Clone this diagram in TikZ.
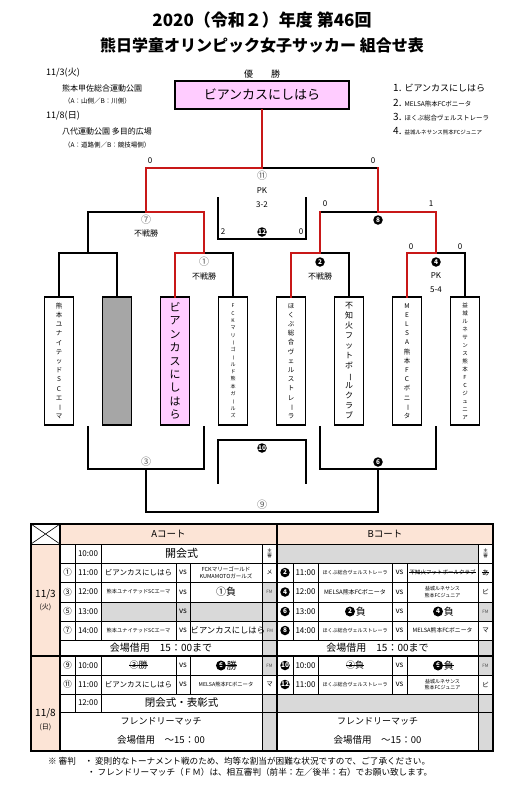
\documentclass[tikz,border=0pt]{standalone}
\usepackage{fontspec}
\setmainfont{Noto Sans CJK JP}
\usetikzlibrary{positioning}

\definecolor{winred}{RGB}{200,24,24}
\definecolor{peach}{RGB}{252,228,214}
\definecolor{cellgray}{RGB}{217,217,217}
\definecolor{byegray}{RGB}{166,166,166}
\definecolor{champpink}{RGB}{255,204,255}

\newcommand\fsz[2]{\fontsize{#1}{#2}\selectfont}
\newcommand\tbar{\rotatebox[origin=c]{-90}{ー}}

\tikzset{
  brk/.style={line width=1.5pt, line cap=rect},
  win/.style={line width=2.6pt, draw=winred, line cap=rect},
  team/.style={draw, line width=1.6pt, minimum width=29pt, minimum height=128pt,
    inner sep=0pt, align=center},
  wnum/.style={inner sep=0pt, text=black!65, font=\fsz{10}{10}},
  bnum/.style={circle, fill=black, text=white, inner sep=0pt, minimum size=9.5pt,
    font=\fsz{6.5}{6.5}\bfseries},
  lbl/.style={inner sep=0pt, font=\fsz{8}{9}},
  thinl/.style={line width=0.6pt},
  thickl/.style={line width=1.6pt},
  txt/.style={inner sep=0pt, font=\fsz{#1}{#1}},
  sm/.style={inner sep=0pt, align=center, font=\fsz{#1}{6.6}},
  struck/.style={append after command={(\tikzlastnode.west) edge[line width=0.6pt] (\tikzlastnode.east)}},
}

\begin{document}
\begin{tikzpicture}[x=1pt,y=-1pt]
\useasboundingbox (0,0) rectangle (525,809);

% title
\node[font=\fsz{17}{17}\bfseries] (title1) at (262,20) {2020（令和２）年度 第46回};
\node[font=\fsz{16}{16}\bfseries] (title2) at (262,45) {熊日学童オリンピック女子サッカー 組合せ表};

% venues
\node[anchor=west, txt=9] (day1v) at (46,73) {11/3(火)};
\node[anchor=west, txt=8] (place1) at (62,88) {熊本甲佐総合運動公園};
\node[anchor=west, txt=6.5] (side1) at (64,101) {（A：山側／B：川側）};
\node[anchor=west, txt=9] (day2v) at (46,116) {11/8(日)};
\node[anchor=west, txt=8] (place2) at (62,131) {八代運動公園 多目的広場};
\node[anchor=west, txt=6.5] (side2) at (64,145) {（A：道路側／B：競技場側）};

% ranking
\node[anchor=west, inner sep=0pt] (rank1) at (393,88) {\fsz{10}{10}1. \fsz{9}{9}ビアンカスにしはら};
\node[anchor=west, inner sep=0pt] (rank2) at (393,103) {\fsz{10}{10}2. \fsz{6.5}{6.5}MELSA熊本FCボニータ};
\node[anchor=west, inner sep=0pt] (rank3) at (393,117) {\fsz{10}{10}3. \fsz{6.5}{6.5}ほくぶ総合ヴェルストレーラ};
\node[anchor=west, inner sep=0pt] (rank4) at (393,131) {\fsz{10}{10}4. \fsz{5.5}{5.5}益城ルネサンス熊本FCジュニア};

% champion
\node[txt=9] (yusho) at (262,74) {優　　勝};
\node[draw, line width=1.6pt, fill=champpink, minimum width=174pt, minimum height=28pt,
  inner sep=0pt, font=\fsz{13}{13}] (champ) at (262,95) {ビアンカスにしはら};

% teams
\node[team, font=\fsz{6.5}{9.2}] (t1) at (59,361) {熊\\本\\ユ\\ナ\\イ\\テ\\ッ\\ド\\S\\C\\エ\\\tbar\\マ};
\node[team, fill=byegray] (t2) at (117,361) {};
\node[team, fill=champpink, font=\fsz{11}{13.4}] (t3) at (175,361) {ビ\\ア\\ン\\カ\\ス\\に\\し\\は\\ら};
\node[team, font=\fsz{5}{7.3}] (t4) at (233,361) {F\\C\\K\\マ\\リ\\\tbar\\ゴ\\\tbar\\ル\\ド\\熊\\本\\ガ\\\tbar\\ル\\ズ};
\node[team, font=\fsz{6.5}{9.2}] (t5) at (291,361) {ほ\\く\\ぶ\\総\\合\\ヴ\\ェ\\ル\\ス\\ト\\レ\\\tbar\\ラ};
\node[team, font=\fsz{8}{10}] (t6) at (349,361) {不\\知\\火\\フ\\ッ\\ト\\ボ\\\tbar\\ル\\ク\\ラ\\ブ};
\node[team, font=\fsz{6.5}{9.2}] (t7) at (407,361) {M\\E\\L\\S\\A\\熊\\本\\F\\C\\ボ\\ニ\\\tbar\\タ};
\node[team, font=\fsz{5.5}{8}] (t8) at (465,361) {益\\城\\ル\\ネ\\サ\\ン\\ス\\熊\\本\\F\\C\\ジ\\ュ\\ニ\\ア};

% upper bracket
\coordinate (p12) at (88,253);
\coordinate (m1) at (204,253);
\coordinate (m2) at (320,253);
\coordinate (m4) at (436,253);
\coordinate (m7) at (146,212);
\coordinate (m8) at (378,212);
\coordinate (m11) at (262,168);
\draw[brk] (t1.north) |- (p12) -| (t2.north);
\draw[brk] (t3.north) |- (m1) -| (t4.north);
\draw[brk] (t5.north) |- (m2) -| (t6.north);
\draw[brk] (t7.north) |- (m4) -| (t8.north);
\draw[brk] (p12) |- (m7) -| (m1);
\draw[brk] (m2) |- (m8) -| (m4);
\draw[brk] (m7) |- (m11) -| (m8);

% winners
\draw[win] (champ.south) -- (m11) -| (m7) -| (m1) -| (t3.north);
\draw[win] (m11 -| m8) -- (m8) -| (m4) -| (t7.north);
\draw[win] (t5.north) |- (m2) -- (m2 |- m8);

% third place
\coordinate (l12a) at (218,198);
\coordinate (l12b) at (306,198);
\coordinate (m12) at (262,239);
\draw[brk] (l12a) |- (m12) -| (l12b);

% lower bracket
\coordinate (g12) at (88,427);
\coordinate (g34) at (204,427);
\coordinate (g56) at (320,427);
\coordinate (g78) at (436,427);
\coordinate (m3) at (146,469);
\coordinate (m6) at (378,469);
\coordinate (m9) at (262,512);
\draw[brk] (g12) |- (m3) -| (g34);
\draw[brk] (g56) |- (m6) -| (g78);
\draw[brk] (m3) |- (m9) -| (m6);
\coordinate (m10) at (262,440);
\coordinate (l10a) at (218,483);
\coordinate (l10b) at (306,483);
\draw[brk] (l10a) |- (m10) -| (l10b);

% match labels
\node[lbl] (s11l) at (150,161) {0};
\node[lbl] (s11r) at (373,161) {0};
\node[wnum] (n11) at (262,176) {⑪};
\node[lbl] (pk11) at (262,191) {PK};
\node[lbl] (r11) at (262,205) {3-2};
\node[wnum] (n7) at (146,220) {⑦};
\node[lbl] (f7) at (146,233) {不戦勝};
\node[lbl] (s8l) at (325,204) {0};
\node[lbl] (s8r) at (431,204) {1};
\node[bnum] (n8) at (378,220) {8};
\node[lbl] (s12l) at (223,232) {2};
\node[bnum] (n12) at (262,232) {12};
\node[lbl] (s12r) at (301,232) {0};
\node[wnum] (n1) at (204,262) {①};
\node[lbl] (f1) at (204,276) {不戦勝};
\node[bnum] (n2) at (320,262) {2};
\node[lbl] (f2) at (320,276) {不戦勝};
\node[lbl] (s4l) at (411,247) {0};
\node[lbl] (s4r) at (460,247) {0};
\node[bnum] (n4) at (436,262) {4};
\node[lbl] (pk4) at (436,276) {PK};
\node[lbl] (r4) at (436,290) {5-4};
\node[bnum] (n10) at (262,448) {10};
\node[wnum] (n3) at (146,462) {③};
\node[bnum] (n6) at (378,462) {6};
\node[wnum] (n9) at (262,505) {⑨};

% schedule table: fills
\fill[peach] (60,524) rectangle (493,544);
\fill[peach] (31,544) rectangle (60,751);
\fill[cellgray] (277,544) rectangle (478,563);
\fill[cellgray] (262,582) rectangle (277,602);
\fill[cellgray] (101,602) rectangle (277,621);
\fill[cellgray] (478,602) rectangle (493,621);
\fill[cellgray] (262,621) rectangle (277,656);
\fill[cellgray] (478,640) rectangle (493,656);
\fill[cellgray] (262,656) rectangle (277,675);
\fill[cellgray] (478,656) rectangle (493,675);
\fill[cellgray] (262,694) rectangle (277,751);
\fill[cellgray] (277,694) rectangle (493,712);
\fill[cellgray] (478,712) rectangle (493,751);

% schedule table: rules
\draw[line width=1pt] (31,544) -- (493,544);
\foreach \y in {563,582,602,621,640,675,694,712}
  \draw[thinl] (60,\y) -- (493,\y);
\foreach \x in {75,101}
  \draw[thinl] (\x,544) -- (\x,640) (\x,656) -- (\x,712);
\foreach \x in {176,190,293,318,392,407}
  \draw[thinl] (\x,563) -- (\x,640) (\x,656) -- (\x,694);
\draw[thinl] (262,544) -- (262,751);
\draw[thinl] (478,544) -- (478,751);
\draw[thinl] (31,524) -- (60,544) (31,544) -- (60,524);
\draw[thickl] (60,524) -- (60,751);
\draw[thickl] (277,524) -- (277,751);
\draw[thickl] (31,656) -- (493,656);
\draw[thickl] (31,524) rectangle (493,751);

% schedule table: header and days
\node[txt=9.5] (hA) at (168.5,534) {Aコート};
\node[txt=9.5] (hB) at (385,534) {Bコート};
\node[txt=10] (day1) at (45.5,594) {11/3};
\node[txt=7] (wd1) at (45.5,607) {(火)};
\node[txt=10] (day2) at (45.5,713) {11/8};
\node[txt=7] (wd2) at (45.5,727) {(日)};

% 10:00
\node[txt=8] (a1t) at (88,553.5) {10:00};
\node[txt=11] (a1e) at (181.5,553.5) {開会式};
\node[inner sep=0pt, align=center, font=\fsz{4.5}{5.5}] (a1r) at (269.5,553.5) {主\\審};
\node[inner sep=0pt, align=center, font=\fsz{4.5}{5.5}] (b1r) at (485.5,553.5) {主\\審};

% 11:00
\node[txt=8.5] (a2n) at (67.5,572.5) {①};
\node[txt=8] (a2t) at (88,572.5) {11:00};
\node[txt=7.5] (a2h) at (138.5,572.5) {ビアンカスにしはら};
\node[txt=8] (a2v) at (183,572.5) {vs};
\node[sm=5.5] (a2o) at (226,572.5) {FCKマリーゴールド\\KUMAMOTOガールズ};
\node[txt=6] (a2r) at (269.5,572.5) {メ};
\node[bnum] (b2n) at (285,572.5) {2};
\node[txt=8] (b2t) at (305.5,572.5) {11:00};
\node[txt=5] (b2h) at (355,572.5) {ほくぶ総合ヴェルストレーラ};
\node[txt=8] (b2v) at (399.5,572.5) {vs};
\node[txt=5.5, struck] (b2o) at (442.5,572.5) {不知火フットボールクラブ};
\node[txt=7, struck] (b2r) at (485.5,572.5) {あ};

% 12:00
\node[txt=8.5] (a3n) at (67.5,592) {③};
\node[txt=8] (a3t) at (88,592) {12:00};
\node[txt=5.2] (a3h) at (138.5,592) {熊本ユナイテッドSCエーマ};
\node[txt=8] (a3v) at (183,592) {vs};
\node[txt=10] (a3o) at (226,592) {①負};
\node[txt=4.5, text=black!70] (a3r) at (269.5,592) {FM};
\node[bnum] (b3n) at (285,592) {4};
\node[txt=8] (b3t) at (305.5,592) {12:00};
\node[txt=6] (b3h) at (355,592) {MELSA熊本FCボニータ};
\node[txt=8] (b3v) at (399.5,592) {vs};
\node[sm=5] (b3o) at (442.5,592) {益城ルネサンス\\熊本FCジュニア};
\node[txt=6.5] (b3r) at (485.5,592) {ビ};

% 13:00
\node[txt=8.5] (a4n) at (67.5,611.5) {⑤};
\node[txt=8] (a4t) at (88,611.5) {13:00};
\node[txt=8] (a4v) at (183,611.5) {vs};
\node[bnum] (b4n) at (285,611.5) {6};
\node[txt=8] (b4t) at (305.5,611.5) {13:00};
\node[bnum, minimum size=10pt] (b4hc) at (350,611.5) {2};
\node[txt=10, right=0.5pt of b4hc] (b4hk) {負};
\node[txt=8] (b4v) at (399.5,611.5) {vs};
\node[bnum, minimum size=10pt] (b4oc) at (438,611.5) {4};
\node[txt=10, right=0.5pt of b4oc] (b4ok) {負};
\node[txt=4.5, text=black!70] (b4r) at (485.5,611.5) {FM};

% 14:00
\node[txt=8.5] (a5n) at (67.5,630.5) {⑦};
\node[txt=8] (a5t) at (88,630.5) {14:00};
\node[txt=5.2] (a5h) at (138.5,630.5) {熊本ユナイテッドSCエーマ};
\node[txt=8] (a5v) at (183,630.5) {vs};
\node[txt=8.3, anchor=west] (a5o) at (190.5,630.5) {ビアンカスにしはら};
\node[txt=4.5, text=black!70] (a5r) at (270,630.5) {FM};
\node[bnum] (b5n) at (285,630.5) {8};
\node[txt=8] (b5t) at (305.5,630.5) {14:00};
\node[txt=5] (b5h) at (355,630.5) {ほくぶ総合ヴェルストレーラ};
\node[txt=8] (b5v) at (399.5,630.5) {vs};
\node[txt=5.8] (b5o) at (442.5,630.5) {MELSA熊本FCボニータ};
\node[txt=6.5] (b5r) at (485.5,630.5) {マ};

\node[txt=10] (a6) at (161,648) {会場借用　15：00まで};
\node[txt=10] (b6) at (377.5,648) {会場借用　15：00まで};

% 11/8 10:00
\node[txt=8.5] (a8n) at (67.5,665.5) {⑨};
\node[txt=8] (a8t) at (88,665.5) {10:00};
\node[txt=9, struck] (a8h) at (138.5,665.5) {③勝};
\node[txt=8] (a8v) at (183,665.5) {vs};
\node[bnum, minimum size=10pt] (a8oc) at (221,665.5) {6};
\node[txt=10, right=0.5pt of a8oc] (a8ok) {勝};
\draw[thinl] (a8oc.west) -- (a8oc.west -| a8ok.east);
\node[txt=4.5, text=black!70] (a8r) at (269.5,665.5) {FM};
\node[bnum] (b8n) at (285,665.5) {10};
\node[txt=8] (b8t) at (305.5,665.5) {10:00};
\node[txt=9, struck] (b8h) at (355,665.5) {③負};
\node[txt=8] (b8v) at (399.5,665.5) {vs};
\node[bnum, minimum size=10pt] (b8oc) at (438,665.5) {6};
\node[txt=10, right=0.5pt of b8oc] (b8ok) {負};
\draw[thinl] (b8oc.west) -- (b8oc.west -| b8ok.east);
\node[txt=4.5, text=black!70] (b8r) at (485.5,665.5) {FM};

% 11/8 11:00
\node[txt=8.5] (a9n) at (67.5,684.5) {⑪};
\node[txt=8] (a9t) at (88,684.5) {11:00};
\node[txt=7.5] (a9h) at (138.5,684.5) {ビアンカスにしはら};
\node[txt=8] (a9v) at (183,684.5) {vs};
\node[txt=5.3] (a9o) at (226,684.5) {MELSA熊本FCボニータ};
\node[txt=6.5] (a9r) at (269.5,684.5) {マ};
\node[bnum] (b9n) at (285,684.5) {12};
\node[txt=8] (b9t) at (305.5,684.5) {11:00};
\node[txt=5] (b9h) at (355,684.5) {ほくぶ総合ヴェルストレーラ};
\node[txt=8] (b9v) at (399.5,684.5) {vs};
\node[sm=5] (b9o) at (442.5,684.5) {益城ルネサンス\\熊本FCジュニア};
\node[txt=6.5] (b9r) at (485.5,684.5) {ビ};

% 11/8 12:00
\node[txt=8] (a10t) at (88,703) {12:00};
\node[txt=10.5] (a10e) at (181.5,703) {閉会式・表彰式};

\node[txt=9] (a11a) at (161,721) {フレンドリーマッチ};
\node[txt=9.5] (a11b) at (161,740) {会場借用　～15：00};
\node[txt=9] (b11a) at (377.5,721) {フレンドリーマッチ};
\node[txt=9.5] (b11b) at (377.5,740) {会場借用　～15：00};

% notes
\node[anchor=west, txt=8.6] (note1) at (48,761) {※ 審判　・ 変則的なトーナメント戦のため、均等な割当が困難な状況ですので、ご了承ください。};
\node[anchor=west, txt=8.6] (note2) at (87,772) {・ フレンドリーマッチ（ＦＭ）は、相互審判（前半：左／後半：右）でお願い致します。};

\end{tikzpicture}
\end{document}
